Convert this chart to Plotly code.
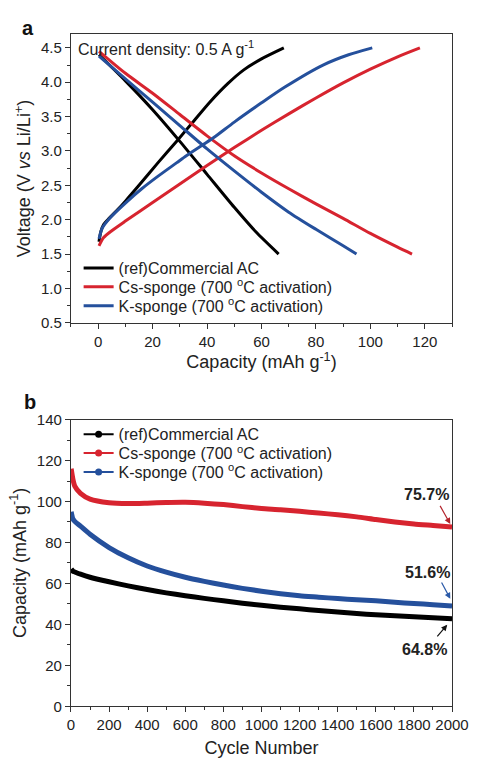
import plotly.graph_objects as go

# ---------------- Panel a: charge/discharge profiles ----------------
ac_chg_cap = [0.3, 1.0, 2.0, 4.0, 7.0, 10.0, 15.0, 22.0, 29.0, 35.0, 41.0, 47.6, 53.5, 60.0, 68.2]
ac_chg_v   = [1.68, 1.83, 1.93, 2.02, 2.14, 2.27, 2.50, 2.83, 3.15, 3.43, 3.71, 3.98, 4.18, 4.34, 4.50]
ac_dis_cap = [0.3, 10.0, 20.0, 30.0, 40.0, 50.0, 58.0, 66.3]
ac_dis_v   = [4.40, 4.02, 3.60, 3.14, 2.66, 2.18, 1.82, 1.50]

cs_chg_cap = [0.3, 2.0, 5.0, 10.0, 20.0, 30.0, 40.0, 50.0, 60.0, 70.0, 80.0, 90.0, 100.0, 110.0, 118.2]
cs_chg_v   = [1.62, 1.74, 1.84, 1.98, 2.25, 2.52, 2.79, 3.05, 3.30, 3.54, 3.77, 3.99, 4.19, 4.37, 4.50]
cs_dis_cap = [0.3, 10.0, 20.0, 30.0, 40.0, 50.0, 60.0, 70.0, 80.0, 90.0, 100.0, 110.0, 115.3]
cs_dis_v   = [4.45, 4.13, 3.84, 3.53, 3.22, 2.93, 2.68, 2.45, 2.23, 2.02, 1.80, 1.60, 1.50]

k_chg_cap = [0.3, 1.5, 4.4, 10.2, 16.0, 21.9, 28.9, 32.4, 38.9, 43.0, 50.0, 60.0, 68.6, 82.6, 92.0, 100.7]
k_chg_v   = [1.72, 1.88, 2.03, 2.25, 2.45, 2.63, 2.83, 2.93, 3.10, 3.21, 3.42, 3.70, 3.93, 4.25, 4.40, 4.50]
k_dis_cap = [0.3, 10.0, 20.0, 30.0, 40.0, 50.0, 60.0, 70.0, 80.0, 90.0, 94.9]
k_dis_v   = [4.38, 4.05, 3.71, 3.37, 3.03, 2.71, 2.40, 2.11, 1.86, 1.62, 1.50]

# ---------------- Panel b: cycling ----------------
cyc = [1, 10, 20, 50, 100, 200, 300, 400, 500, 600, 700, 800, 900, 1000, 1100, 1200,
       1300, 1400, 1500, 1600, 1700, 1800, 1900, 2000]
ac_cyc = [67.0, 66.0, 65.6, 64.5, 63.0, 60.8, 58.8, 57.0, 55.4, 54.0, 52.7, 51.5, 50.3, 49.3,
          48.4, 47.6, 46.8, 46.0, 45.3, 44.7, 44.2, 43.7, 43.2, 42.8]
cs_cyc = [116.0, 111.0, 107.5, 104.0, 101.2, 99.4, 99.0, 99.2, 99.5, 99.6, 99.2, 98.5, 97.5, 96.6,
          96.0, 95.2, 94.4, 93.5, 92.5, 91.2, 90.0, 89.0, 88.3, 87.6]
k_cyc = [95.0, 91.5, 90.3, 88.0, 84.0, 77.5, 72.5, 68.5, 65.5, 63.0, 61.0, 59.2, 57.6, 56.2,
         55.0, 54.0, 53.3, 52.6, 52.0, 51.5, 50.8, 50.2, 49.6, 49.0]

names = ["(ref)Commercial AC", "Cs-sponge (700 <sup>o</sup>C activation)", "K-sponge (700 <sup>o</sup>C activation)"]
colors = ["#000000", "#d7242f", "#25509c"]

retention_labels = ["64.8%", "75.7%", "51.6%"]

FONT = "Liberation Sans, Arial, sans-serif"
W, H = 485, 758

fig = go.Figure()

top_sets = [
    (ac_chg_cap, ac_chg_v, ac_dis_cap, ac_dis_v),
    (cs_chg_cap, cs_chg_v, cs_dis_cap, cs_dis_v),
    (k_chg_cap, k_chg_v, k_dis_cap, k_dis_v),
]
top_legends = ["legend", "legend2", "legend3"]
bot_legends = ["legend4", "legend5", "legend6"]
for i, (cx, cy, dx, dy) in enumerate(top_sets):
    fig.add_trace(go.Scatter(x=cx, y=cy, mode="lines", line=dict(color=colors[i], width=3, shape="spline", smoothing=0.7),
                             name=names[i], legend=top_legends[i], showlegend=True, xaxis="x", yaxis="y"))
    fig.add_trace(go.Scatter(x=dx, y=dy, mode="lines", line=dict(color=colors[i], width=3, shape="spline", smoothing=0.7),
                             name=names[i], showlegend=False, xaxis="x", yaxis="y"))

bot_sets = [ac_cyc, cs_cyc, k_cyc]
for i, yy in enumerate(bot_sets):
    fig.add_trace(go.Scatter(x=cyc, y=yy, mode="lines", line=dict(color=colors[i], width=5, shape="spline", smoothing=0.6),
                             showlegend=False, xaxis="x2", yaxis="y2"))
for i in range(3):
    fig.add_trace(go.Scatter(x=[None], y=[None], mode="lines+markers", line=dict(color=colors[i], width=2),
                             marker=dict(color=colors[i], size=7), name=names[i], legend=bot_legends[i],
                             showlegend=True, xaxis="x2", yaxis="y2"))

xdom = [70 / W, 468.3 / W]
ydom_a = [(H - 321) / H, (H - 25.7) / H]
ydom_b = [(H - 713.3) / H, (H - 420) / H]

axis_common = dict(showline=True, linecolor="#333333", linewidth=1.2, mirror=True, ticks="outside",
                   ticklen=5, tickwidth=1.2, tickcolor="#333333", showgrid=False, zeroline=False,
                   tickfont=dict(family=FONT, size=15, color="#222222"))
minor_common = dict(ticklen=3, ticks="outside", tickcolor="#333333")
title_font = dict(family=FONT, size=18, color="#222222")

layout = dict(
    width=W, height=H, margin=dict(l=0, r=0, t=0, b=0),
    paper_bgcolor="white", plot_bgcolor="white",
    font=dict(family=FONT, color="#222222"),
    xaxis=dict(domain=xdom, anchor="y", range=[-10, 130], dtick=20, tick0=0,
               minor=dict(dtick=10, **minor_common),
               title=dict(text="Capacity (mAh g<sup>-1</sup>)", font=title_font, standoff=0),
               **axis_common),
    yaxis=dict(domain=ydom_a, anchor="x", range=[0.5, 4.7], dtick=0.5, tick0=0.5, tickformat=".1f",
               minor=dict(dtick=0.25, **minor_common),
               title=dict(text="Voltage (V <i>vs</i> Li/Li<sup>+</sup>)", font=title_font, standoff=5),
               **axis_common),
    xaxis2=dict(domain=xdom, anchor="y2", range=[0, 2000], dtick=200, tick0=0,
                minor=dict(dtick=100, **minor_common),
                title=dict(text="Cycle Number", font=title_font, standoff=8),
                **axis_common),
    yaxis2=dict(domain=ydom_b, anchor="x2", range=[0, 140], dtick=20, tick0=0,
                minor=dict(dtick=10, **minor_common),
                title=dict(text="Capacity (mAh g<sup>-1</sup>)", font=title_font, standoff=5),
                **axis_common),
    showlegend=True,
)

top_rows = [265.0, 284.3, 303.6]
bot_rows = [435.0, 454.3, 473.6]
for key, row in zip(top_legends + bot_legends, top_rows + bot_rows):
    layout[key] = dict(x=78 / W, y=(H - row) / H, xanchor="left", yanchor="middle", bgcolor="rgba(0,0,0,0)",
                       font=dict(family=FONT, size=16, color="#222222"), itemwidth=30)
fig.update_layout(**layout)

annotations = [
    dict(text="<b>a</b>", x=17 / W, y=(H - 19) / H, xref="paper", yref="paper", showarrow=False,
         font=dict(family=FONT, size=20, color="#111111"), xanchor="left", yanchor="middle"),
    dict(text="<b>b</b>", x=19 / W, y=(H - 402) / H, xref="paper", yref="paper", showarrow=False,
         font=dict(family=FONT, size=20, color="#111111"), xanchor="left", yanchor="middle"),
    dict(text="Current density: 0.5 A g<sup>-1</sup>", x=-8.3, y=4.5, xref="x", yref="y", showarrow=False,
         font=dict(family=FONT, size=16, color="#222222"), xanchor="left", yanchor="middle"),
]

# retention labels with arrows (panel b)
ret_text_pos = [(1853, 27.8), (1867, 103.4), (1873, 65.2)]
ret_arrow_head = [(1975, 39.8), (1991, 89.0), (1991, 52.5)]
ret_arrow_tail = [(1916, 33.4), (1933, 98.6), (1941, 61.2)]
arrow_colors = ["#111111", "#b3242c", "#2b5aa8"]
for i in range(3):
    annotations.append(dict(text="<b>%s</b>" % retention_labels[i], x=ret_text_pos[i][0], y=ret_text_pos[i][1],
                            xref="x2", yref="y2", showarrow=False,
                            font=dict(family=FONT, size=16, color="#222222")))
    annotations.append(dict(text="", x=ret_arrow_head[i][0], y=ret_arrow_head[i][1], xref="x2", yref="y2",
                            ax=ret_arrow_tail[i][0], ay=ret_arrow_tail[i][1], axref="x2", ayref="y2",
                            showarrow=True, arrowhead=2, arrowsize=1, arrowwidth=1.2, arrowcolor=arrow_colors[i]))
fig.update_layout(annotations=annotations)

fig.write_html("out.html")
